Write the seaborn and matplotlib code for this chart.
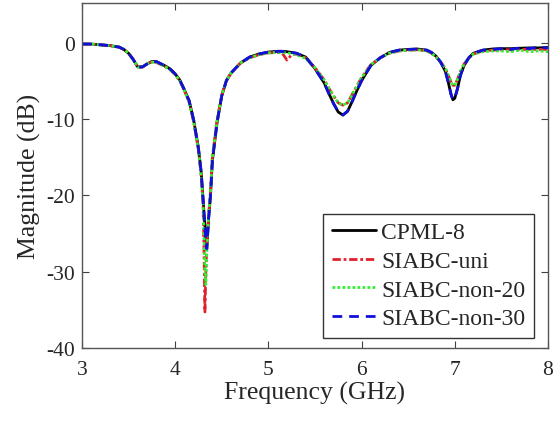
import numpy as np
import pandas as pd
import matplotlib
matplotlib.use("Agg")
import matplotlib.pyplot as plt
import seaborn as sns

freq = [3.0, 3.1, 3.2, 3.3, 3.4, 3.45, 3.5, 3.55, 3.6, 3.65, 3.7, 3.75, 3.8, 3.85, 3.9, 3.95,
        4.0, 4.05, 4.1, 4.15, 4.2, 4.25, 4.28, 4.3, 4.31, 4.32, 4.33, 4.34, 4.35, 4.36, 4.38,
        4.4, 4.45, 4.5, 4.55, 4.6, 4.7, 4.8, 4.9, 5.0, 5.1, 5.15, 5.2, 5.25, 5.3, 5.4, 5.5,
        5.6, 5.65, 5.7, 5.75, 5.8, 5.85, 5.9, 5.95, 6.0, 6.1, 6.2, 6.3, 6.4, 6.5, 6.6, 6.7,
        6.75, 6.8, 6.85, 6.9, 6.93, 6.96, 6.98, 7.0, 7.03, 7.06, 7.1, 7.15, 7.2, 7.3, 7.4,
        7.5, 7.6, 7.7, 7.8, 7.9, 8.0]

cpml8 = [-0.2, -0.2, -0.3, -0.4, -0.6, -0.9, -1.4, -2.2, -3.2, -3.2, -2.8, -2.5, -2.5, -2.8, -3.1, -3.5,
         -4.1, -4.9, -6.2, -7.6, -10.2, -13.8, -17.0, -20.5, -22.3, -24.0, -26.0, -27.0, -25.0, -23.0, -20.0,
         -15.5, -10.5, -7.0, -5.0, -4.0, -2.7, -1.9, -1.5, -1.25, -1.15, -1.15, -1.2, -1.3, -1.4, -1.9, -3.4,
         -5.3, -6.7, -8.0, -9.1, -9.5, -9.0, -7.7, -6.3, -5.0, -3.0, -2.0, -1.3, -1.0, -0.9, -0.85, -1.0,
         -1.3, -1.8, -2.6, -3.8, -5.2, -6.8, -7.5, -7.3, -6.0, -4.3, -3.0, -2.0, -1.4, -1.0, -0.85,
         -0.8, -0.8, -0.75, -0.7, -0.7, -0.65]

siabc_uni = [-0.2, -0.2, -0.3, -0.4, -0.6, -0.9, -1.4, -2.2, -3.2, -3.2, -2.8, -2.5, -2.6, -2.9, -3.2, -3.6,
             -4.2, -5.0, -6.3, -7.8, -10.4, -14.0, -17.5, -21.0, -27.0, -35.3, -30.0, -26.5, -24.5, -22.5, -19.5,
             -15.0, -10.2, -6.9, -5.0, -4.0, -2.7, -2.0, -1.6, -1.35, -1.3, -1.4, -2.3, -1.6, -1.5, -2.0, -3.3,
             -4.9, -6.0, -7.0, -7.9, -8.2, -7.9, -6.8, -5.7, -4.6, -2.9, -2.0, -1.4, -1.1, -1.0, -0.95, -1.1,
             -1.4, -1.9, -2.6, -3.4, -4.3, -5.2, -5.6, -5.6, -4.8, -3.8, -2.8, -2.0, -1.5, -1.1, -1.0,
             -0.95, -0.95, -0.9, -0.9, -0.9, -0.9]

siabc_non20 = [-0.2, -0.2, -0.3, -0.4, -0.6, -0.9, -1.4, -2.2, -3.2, -3.2, -2.8, -2.6, -2.6, -2.9, -3.2, -3.6,
               -4.2, -5.0, -6.3, -7.8, -10.4, -14.0, -17.5, -21.0, -25.0, -30.0, -31.7, -27.5, -24.8, -22.6, -19.6,
               -15.0, -10.2, -6.9, -5.0, -4.0, -2.7, -2.0, -1.6, -1.35, -1.3, -1.3, -1.35, -1.45, -1.6, -2.1, -3.3,
               -4.9, -6.0, -7.0, -7.9, -8.2, -7.9, -6.8, -5.7, -4.6, -2.9, -2.0, -1.4, -1.1, -1.0, -0.95, -1.1,
               -1.4, -1.9, -2.6, -3.4, -4.3, -5.2, -5.6, -5.6, -4.8, -3.8, -2.8, -2.0, -1.5, -1.2, -1.1,
               -1.1, -1.2, -1.0, -1.2, -1.1, -1.2]

siabc_non30 = [-0.2, -0.2, -0.3, -0.4, -0.6, -0.9, -1.4, -2.2, -3.2, -3.2, -2.8, -2.5, -2.5, -2.8, -3.1, -3.5,
               -4.1, -4.9, -6.2, -7.6, -10.2, -13.8, -17.0, -20.5, -22.3, -24.0, -26.0, -27.0, -25.0, -23.0, -20.0,
               -15.5, -10.5, -7.0, -5.0, -4.0, -2.7, -1.9, -1.5, -1.25, -1.15, -1.15, -1.2, -1.3, -1.4, -1.9, -3.4,
               -5.3, -6.7, -8.0, -9.1, -9.5, -9.0, -7.7, -6.3, -5.0, -3.0, -2.0, -1.3, -1.0, -0.9, -0.85, -1.0,
               -1.3, -1.8, -2.6, -3.8, -5.2, -6.8, -7.5, -7.3, -6.0, -4.3, -3.0, -2.0, -1.4, -1.0, -0.9,
               -0.8, -0.9, -0.7, -0.8, -0.6, -0.7]

labels = ["CPML-8", "SIABC-uni", "SIABC-non-20", "SIABC-non-30"]
xticks = [3, 4, 5, 6, 7, 8]
yticks = [-40, -30, -20, -10, 0]

sns.set_theme(style="white")
plt.rcParams['font.family'] = ['Liberation Serif', 'DejaVu Serif']
plt.rcParams['axes.unicode_minus'] = False

fig = plt.figure(figsize=(5.53, 4.27), dpi=100)
ax = fig.add_axes([0.148, 0.183, 0.843, 0.808])

series = [cpml8, siabc_uni, siabc_non20, siabc_non30]
colors = ["#000000", "#e0202a", "#33ee33", "#1010dd"]
styles = ["-", (0, (3, 1, 1, 1)), (0, (1, 0.8)), (0, (3.5, 2.5))]
for lab, vals, c, ls in zip(labels, series, colors, styles):
    df = pd.DataFrame({"Frequency": freq, "Magnitude": vals})
    sns.lineplot(data=df, x="Frequency", y="Magnitude", ax=ax, color=c,
                 linestyle=ls, linewidth=2.0, label=lab, sort=False)

ax.set_xlim(3, 8)
ax.set_ylim(-40, 5.2)
ax.set_xticks(xticks)
ax.set_yticks(yticks)
ax.set_xlabel("Frequency (GHz)", fontsize=18.5, labelpad=1)
ax.set_ylabel("Magnitude (dB)", fontsize=18.5, labelpad=4)
ax.tick_params(direction="in", labelsize=15.5, length=5, width=0.8, color="#404040",
               top=True, right=True, bottom=True, left=True)
ax.tick_params(axis="x", pad=9)
ax.tick_params(axis="y", pad=5)
for s in ax.spines.values():
    s.set_color("#555555")
    s.set_linewidth(1.0)

leg = ax.legend(loc="lower right", bbox_to_anchor=(0.969, 0.03), fontsize=17, frameon=True,
                fancybox=False, edgecolor="#333333", framealpha=1, borderaxespad=0,
                handlelength=1.9, handletextpad=0.2, labelspacing=0.3, borderpad=0.35)
leg.get_frame().set_linewidth(1.0)

fig.savefig("out.png", dpi=100)
